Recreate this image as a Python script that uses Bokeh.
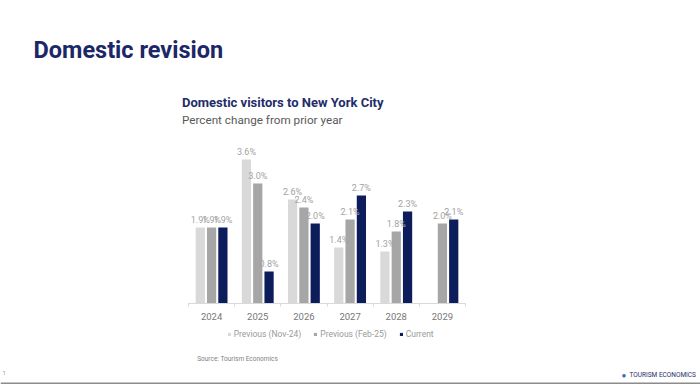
import numpy as np
from bokeh.plotting import figure
from bokeh.models import ColumnDataSource, Range1d, FixedTicker, Label, LabelSet, LinearAxis, Span
from bokeh.core.properties import value
from bokeh.embed import file_html
from bokeh.resources import INLINE

years = ["2024", "2025", "2026", "2027", "2028", "2029"]
prev_nov = [1.9, 3.6, 2.6, 1.4, 1.3, None]
prev_feb = [1.9, 3.0, 2.4, 2.1, 1.8, 2.0]
current = [1.9, 0.8, 2.0, 2.7, 2.3, 2.1]
series_names = ["Previous (Nov-24)", "Previous (Feb-25)", "Current"]
series_values = [prev_nov, prev_feb, current]
colors = ["#d9d9d9", "#a6a6a6", "#0d1d5c"]
offsets = [-0.245, 0.0, 0.245]

FONT = "Roboto"
W, H = 700, 384
# chart area in page pixels: x axis from 188 to 465, baseline at 303, 40 px per percent
X0, X1, Y0, PXPCT = 188.0, 465.0, 303.0, 40.0
ux = (X1 - X0) / len(years)

p = figure(width=W, height=H, output_backend="svg", toolbar_location=None,
           x_range=Range1d(-X0 / ux, (W - X0) / ux),
           y_range=Range1d(-(H - Y0) / PXPCT, Y0 / PXPCT),
           x_axis_location=None, y_axis_location=None,
           min_border=0)
p.outline_line_color = None
p.grid.visible = False
p.background_fill_color = "white"
p.border_fill_color = "white"

idx = np.arange(len(years))
for name, vals, col, off in zip(series_names, series_values, colors, offsets):
    xs, ys, txt = [], [], []
    for i, v in zip(idx, vals):
        if v is None:
            continue
        xs.append(i + 0.5 + off)
        ys.append(v)
        txt.append(f"{v:.1f}%")
    src = ColumnDataSource(dict(x=xs, top=ys, text=txt))
    p.vbar(x="x", top="top", width=0.2, bottom=0, source=src, fill_color=col,
           line_color=None, legend_label=name)
    p.add_layout(LabelSet(x="x", y="top", text="text", source=src, y_offset=3,
                          text_align="center", text_baseline="bottom",
                          text_font=value(FONT), text_font_size=value("9px"),
                          text_color=value("#a3a3a3")))

ax = LinearAxis(fixed_location=0, bounds=(0, len(years)))
ax.ticker = FixedTicker(ticks=list(idx + 0.5), minor_ticks=list(range(len(years) + 1)))
ax.major_label_overrides = {float(i + 0.5): y for i, y in zip(idx, years)}
ax.axis_line_color = "#d9d9d9"
ax.major_tick_line_color = None
ax.minor_tick_line_color = "#d9d9d9"
ax.minor_tick_out = 3
ax.minor_tick_in = 0
ax.major_tick_out = 0
ax.major_tick_in = 0
ax.major_label_standoff = 6
ax.major_label_text_font = FONT
ax.major_label_text_font_size = "9.5px"
ax.major_label_text_color = "#767676"
p.add_layout(ax, "below")

lg = p.legend[0]
lg.orientation = "horizontal"
lg.location = (226.7, H - 339)
lg.glyph_width = 4
lg.glyph_height = 4
lg.label_height = 10
lg.label_standoff = 3
lg.spacing = 12
lg.padding = 0
lg.margin = 0
lg.border_line_color = None
lg.background_fill_alpha = 0
lg.label_text_font = FONT
lg.label_text_font_size = "8.5px"
lg.label_text_color = "#9a9a9a"

def lab(text, px, py, size, color, style="normal", baseline="alphabetic", align="left"):
    p.add_layout(Label(x=px, y=H - py, x_units="screen", y_units="screen",
                       text=text, text_font=FONT, text_font_size=size,
                       text_color=color, text_font_style=style,
                       text_baseline=baseline, text_align=align))

lab("Domestic revision", 33, 49.5, "23.5px", "#1b2766", "bold")
lab("Domestic visitors to New York City", 181.5, 101.7, "13px", "#1f2d6b", "bold")
lab("Percent change from prior year", 181.5, 119.3, "11.7px", "#595959")
lab("Source: Tourism Economics", 196.7, 358.5, "6.5px", "#7f7f7f", baseline="middle")
lab("1", 2, 372, "6px", "#9a9a9a", baseline="middle")
lab("\u25CF", 621, 374.5, "8px", "#3b6fb5", baseline="middle")
lab("TOURISM ECONOMICS", 629, 374.5, "6.5px", "#1f2d6b", baseline="middle")

# slide bottom border
p.add_layout(Span(location=-(H - 1 - Y0) / PXPCT, dimension="width",
                  line_color="#8c8c8c", line_width=2))

open("out.html", "w").write(file_html(p, INLINE))
